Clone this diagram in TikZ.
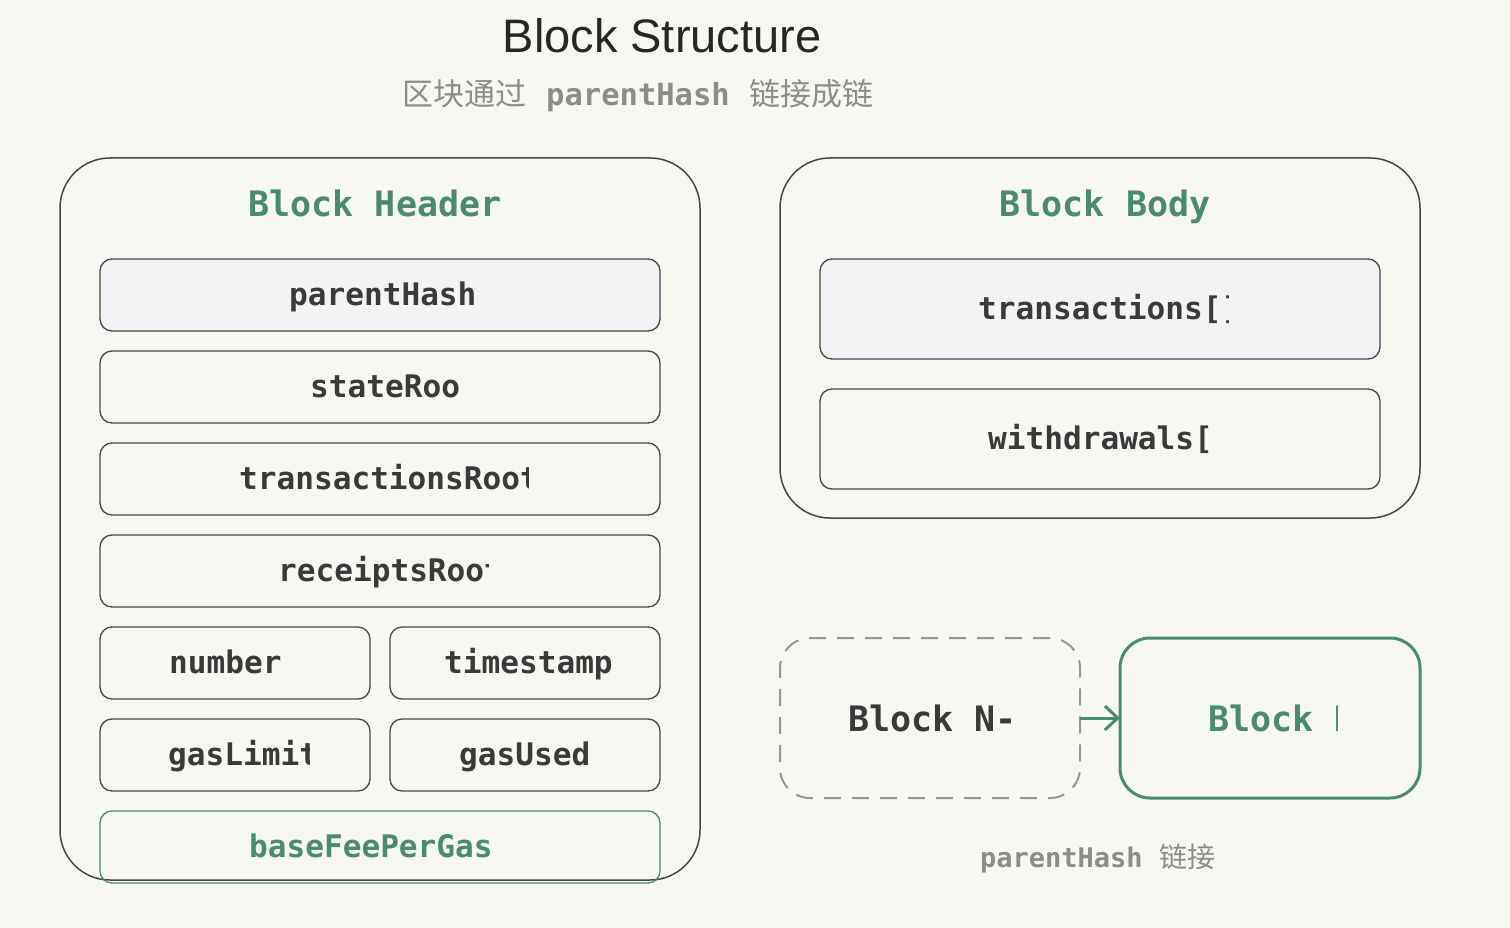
\documentclass[tikz,border=0pt]{standalone}
\usepackage{fontspec}
\setmainfont{Liberation Sans}
\newfontfamily\monof{DejaVu Sans Mono}
\newfontfamily\cjk{Noto Sans CJK SC}
\usetikzlibrary{arrows.meta}
\definecolor{bgc}{RGB}{248,248,243}
\definecolor{grn}{RGB}{74,138,110}
\definecolor{lightfill}{RGB}{241,243,244}
\definecolor{strk}{RGB}{70,70,70}
\definecolor{txt}{RGB}{58,58,58}
\definecolor{subg}{RGB}{140,140,140}
\definecolor{dashg}{RGB}{150,150,150}
\tikzset{
  container/.style={draw=strk, line width=1.5pt, rounded corners=50pt, inner sep=0pt, outer sep=0pt},
  field/.style={draw=strk, line width=1.3pt, rounded corners=12pt, inner sep=0pt, outer sep=0pt},
  ftext/.style={text=txt, font=\monof\bfseries\fontsize{31.1}{36}\selectfont, inner sep=0pt, anchor=mid west},
  htext/.style={text=grn, font=\monof\bfseries\fontsize{35}{40}\selectfont, inner sep=0pt},
}
\begin{document}
\begin{tikzpicture}[x=1pt,y=-1pt]
\useasboundingbox[fill=bgc] (0,0) rectangle (1510,928);
% title
\node[text=black!85, font=\fontsize{47}{52}\selectfont, anchor=base] (title) at (662,53) {Block Structure};
\node[text=subg, inner sep=0pt, anchor=mid west] (sub) at (402,103)
  {{\cjk\fontsize{31}{36}\selectfont 区块通过}\hspace{20pt}{\monof\bfseries\fontsize{30.5}{36}\selectfont parentHash}\hspace{20pt}{\cjk\fontsize{31}{36}\selectfont 链接成链}};
% header container
\node[container, minimum width=640pt, minimum height=722pt] (hdr) at (380,519) {};
\node[htext, anchor=mid] (hdrT) at (375,214) {Block Header};
% fields
\node[field, fill=lightfill, minimum width=560pt, minimum height=72pt] (f1) at (380,295) {};
\node[ftext] (t1) at (289,303) {parentHash};
\node[field, minimum width=560pt, minimum height=72pt] (f2) at (380,387) {};
\node[ftext] (t2) at (310,395) {stateRoo};
\node[field, minimum width=560pt, minimum height=72pt] (f3) at (380,479) {};
\begin{scope}
\clip (230,440) rectangle (528,520);
\node[ftext] (t3) at (239,487) {transactionsRoot};
\end{scope}
\node[field, minimum width=560pt, minimum height=72pt] (f4) at (380,571) {};
\begin{scope}
\clip (270,530) rectangle (488.5,610);
\node[ftext] (t4) at (278,579) {receiptsRoot};
\end{scope}
\node[field, minimum width=270pt, minimum height=72pt] (f5) at (235,663) {};
\node[ftext] (t5) at (169,671) {number};
\node[field, minimum width=270pt, minimum height=72pt] (f6) at (525,663) {};
\node[ftext] (t6) at (444,671) {timestamp};
\node[field, minimum width=270pt, minimum height=72pt] (f7) at (235,755) {};
\begin{scope}
\clip (160,720) rectangle (309,790);
\node[ftext] (t7) at (168,763) {gasLimit};
\end{scope}
\node[field, minimum width=270pt, minimum height=72pt] (f8) at (525,755) {};
\node[ftext] (t8) at (459,763) {gasUsed};
\node[field, draw=grn, minimum width=560pt, minimum height=72pt] (f9) at (380,847) {};
\node[ftext, text=grn] (t9) at (249,855) {baseFeePerGas};
% body container
\node[container, minimum width=640pt, minimum height=360pt] (body) at (1100,338) {};
\node[htext, anchor=mid] (bodyT) at (1105,214) {Block Body};
\node[field, fill=lightfill, minimum width=560pt, minimum height=100pt] (b1) at (1100,309) {};
\begin{scope}
\clip (970,280) rectangle (1228,345);
\node[ftext] (u1) at (978,317) {transactions[]};
\end{scope}
\node[field, minimum width=560pt, minimum height=100pt] (b2) at (1100,439) {};
\node[ftext] (u2) at (988,447) {withdrawals[};
% chain
\node[draw=dashg, line width=2pt, dash pattern=on 17pt off 11pt, rounded corners=30pt, minimum width=300pt, minimum height=160pt, inner sep=0pt, outer sep=0pt] (bn) at (930,718) {};
\node[ftext, font=\monof\bfseries\fontsize{35}{40}\selectfont] (bnT) at (848,729) {Block N-};
\node[draw=grn, line width=3pt, rounded corners=30pt, minimum width=300pt, minimum height=160pt, inner sep=0pt, outer sep=0pt] (bk) at (1270,718) {};
\begin{scope}
\clip (1200,690) rectangle (1337.5,760);
\node[ftext, text=grn, font=\monof\bfseries\fontsize{35}{40}\selectfont] (bkT) at (1208,729) {Block N};
\end{scope}
\draw[grn, line width=3pt, -{Straight Barb[length=13pt,width=24pt]}] (bn.east) -- (bk.west);
\node[text=subg, inner sep=0pt, anchor=mid west] (lbl) at (980,865)
  {{\monof\bfseries\fontsize{27}{32}\selectfont parentHash}\hspace{17pt}{\cjk\fontsize{28}{32}\selectfont 链接}};
\end{tikzpicture}
\end{document}
